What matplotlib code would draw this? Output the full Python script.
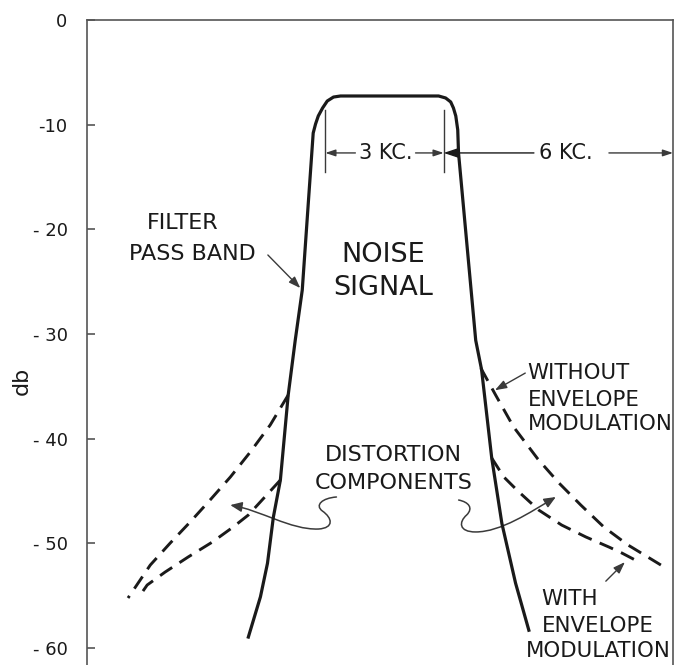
import matplotlib
matplotlib.use('Agg')
import matplotlib.pyplot as plt
from matplotlib.path import Path
from matplotlib.patches import FancyArrowPatch

# frequency offset (kc) and response (db)
band_x = [-3.37, -3.06, -2.88, -2.73, -2.55, -2.35, -2.17, -1.99, -1.83, -1.71,
          -1.65, -1.58, -1.47, -1.35, -1.19, -1.01, 1.50, 1.68, 1.81, 1.88,
          1.94, 1.99, 2.01, 2.45, 2.60, 2.86, 3.12, 3.47, 3.81]
band_db = [-58.95, -55.1, -51.9, -47.5, -43.95, -35.83, -30.6, -25.8, -17.2, -10.8,
           -9.94, -9.17, -8.41, -7.74, -7.36, -7.26, -7.26, -7.45, -7.83, -8.41,
           -9.17, -10.5, -12.7, -30.6, -33.4, -41.85, -48.1, -53.8, -58.3]

# distortion skirts without envelope modulation
wo_left_x = [-2.35, -2.81, -3.32, -3.83, -4.35, -4.86, -5.37, -5.88, -6.45]
wo_left_db = [-35.83, -38.69, -41.27, -43.66, -45.86, -47.96, -49.97, -52.07, -55.22]
wo_right_x = [2.58, 2.96, 3.42, 4.04, 4.58, 5.14, 5.73, 6.35, 7.19]
wo_right_db = [-33.25, -35.83, -38.88, -41.94, -44.23, -46.34, -48.44, -50.16, -52.07]

# distortion skirts with envelope modulation
w_left_x = [-2.55, -3.37, -3.76, -4.29, -4.91, -5.50, -5.96, -6.19]
w_left_db = [-43.95, -47.29, -48.44, -49.87, -51.30, -52.74, -53.98, -55.22]
w_right_x = [2.86, 3.17, 3.53, 4.06, 4.65, 5.27, 5.86, 6.19, 6.68]
w_right_db = [-41.85, -43.66, -45.00, -46.81, -48.25, -49.39, -50.35, -50.92, -51.88]

yticks = [0, -10, -20, -30, -40, -50, -60]
ytick_labels = ['0', '-10', '- 20', '- 30', '- 40', '- 50', '- 60']

ink = '#1a1a1a'
thin = '#3a3a3a'
font = 'DejaVu Sans'

fig = plt.figure(figsize=(6.78, 6.65), dpi=100)
ax = fig.add_axes([87 / 678, 0.0, 586 / 678, 645 / 665])
ax.set_xlim(-7.5, 7.5)
ax.set_ylim(-61.62, 0)

for s in ['left', 'top', 'right']:
    ax.spines[s].set_color('#555555')
    ax.spines[s].set_linewidth(1.2)
ax.spines['bottom'].set_visible(False)
ax.set_xticks([])
ax.set_yticks(yticks)
ax.set_yticklabels(ytick_labels, fontsize=13, family=font, color=ink)
ax.tick_params(axis='y', direction='in', length=6, width=1.2, color='#555555', pad=14)
ax.set_ylabel('db', fontsize=16, family=font, color=ink)
ax.yaxis.set_label_coords(-0.095, 0.44)

ax.plot(band_x, band_db, color=ink, lw=2.3, solid_joinstyle='round')
dash = dict(color=ink, lw=2.1, dashes=(5, 3))
ax.plot(wo_left_x, wo_left_db, **dash)
ax.plot(wo_right_x, wo_right_db, **dash)
ax.plot(w_left_x, w_left_db, **dash)
ax.plot(w_right_x, w_right_db, **dash)

txt = dict(family=font, color=ink, fontsize=16)
side = dict(family=font, color=ink, fontsize=15.3)
ax.text(-5.05, -19.44, 'FILTER', ha='center', va='center', **txt)
ax.text(-4.79, -22.31, 'PASS BAND', ha='center', va='center', **txt)
ax.text(0.09, -22.45, 'NOISE', ha='center', va='center', family=font, color=ink, fontsize=19.5)
ax.text(0.09, -25.6, 'SIGNAL', ha='center', va='center', family=font, color=ink, fontsize=19.5)
ax.text(0.33, -41.56, 'DISTORTION', ha='center', va='center', **txt)
ax.text(0.36, -44.19, 'COMPONENTS', ha='center', va='center', **txt)
for label, y in [('WITHOUT', -33.77), ('ENVELOPE', -36.3), ('MODULATION', -38.55)]:
    ax.text(3.78, y, label, ha='left', va='center', **side)
ax.text(4.85, -55.27, 'WITH', ha='center', va='center', **side)
ax.text(5.58, -57.94, 'ENVELOPE', ha='center', va='center', **side)
ax.text(5.60, -60.29, 'MODULATION', ha='center', va='center', **side)

# pointer arrows
pointer = dict(arrowstyle='-|>,head_length=0.7,head_width=0.25', color=thin, lw=1.0)
ax.annotate('', xy=(-1.99, -25.8), xytext=(-2.92, -22.26), arrowprops=pointer)
ax.annotate('', xy=(2.88, -35.5), xytext=(3.78, -33.6), arrowprops=pointer)
ax.annotate('', xy=(6.32, -51.6), xytext=(5.73, -53.8), arrowprops=pointer)

# bandwidth markers
y_kc = -12.7
ax.plot([-1.40, -1.40], [-8.6, -14.5], color=thin, lw=1.0)
ax.plot([1.63, 1.63], [-8.6, -14.5], color=thin, lw=1.0)
small = dict(arrowstyle='-|>,head_length=0.6,head_width=0.2', color=thin, lw=1.0,
             shrinkA=0, shrinkB=0)
big = dict(arrowstyle='-|>,head_length=0.9,head_width=0.3', color=ink, lw=1.0,
           shrinkA=0, shrinkB=0)
ax.annotate('', xy=(-1.40, y_kc), xytext=(-0.63, y_kc), arrowprops=small)
ax.annotate('', xy=(1.63, y_kc), xytext=(0.91, y_kc), arrowprops=small)
ax.annotate('', xy=(1.63, y_kc), xytext=(3.94, y_kc), arrowprops=big)
ax.annotate('', xy=(7.5, y_kc), xytext=(5.86, y_kc), arrowprops=small)
ax.text(0.14, y_kc, '3 KC.', ha='center', va='center', family=font, color=ink, fontsize=15)
ax.text(4.76, y_kc, '6 KC.', ha='center', va='center', family=font, color=ink, fontsize=15)

# curly leaders from the distortion label
codes = [Path.MOVETO] + [Path.CURVE4] * 9
left_curl = [(-1.115, -45.57), (-1.474, -45.67), (-1.679, -46.34), (-1.474, -46.91),
             (-1.218, -47.58), (-1.167, -48.53), (-1.577, -48.63),
             (-2.295, -48.72), (-3.064, -46.81), (-3.833, -46.34)]
right_curl = [(2.013, -45.86), (2.269, -46.05), (2.397, -46.62), (2.218, -47.29),
              (2.013, -47.96), (2.013, -48.91), (2.449, -48.91),
              (3.090, -48.91), (3.859, -47.00), (4.500, -45.57)]
for curl in [left_curl, right_curl]:
    p = FancyArrowPatch(path=Path(curl, codes),
                        arrowstyle='-|>,head_length=7,head_width=3',
                        color=thin, lw=1.1, mutation_scale=1)
    ax.add_patch(p)

fig.savefig('out.png', dpi=100)
